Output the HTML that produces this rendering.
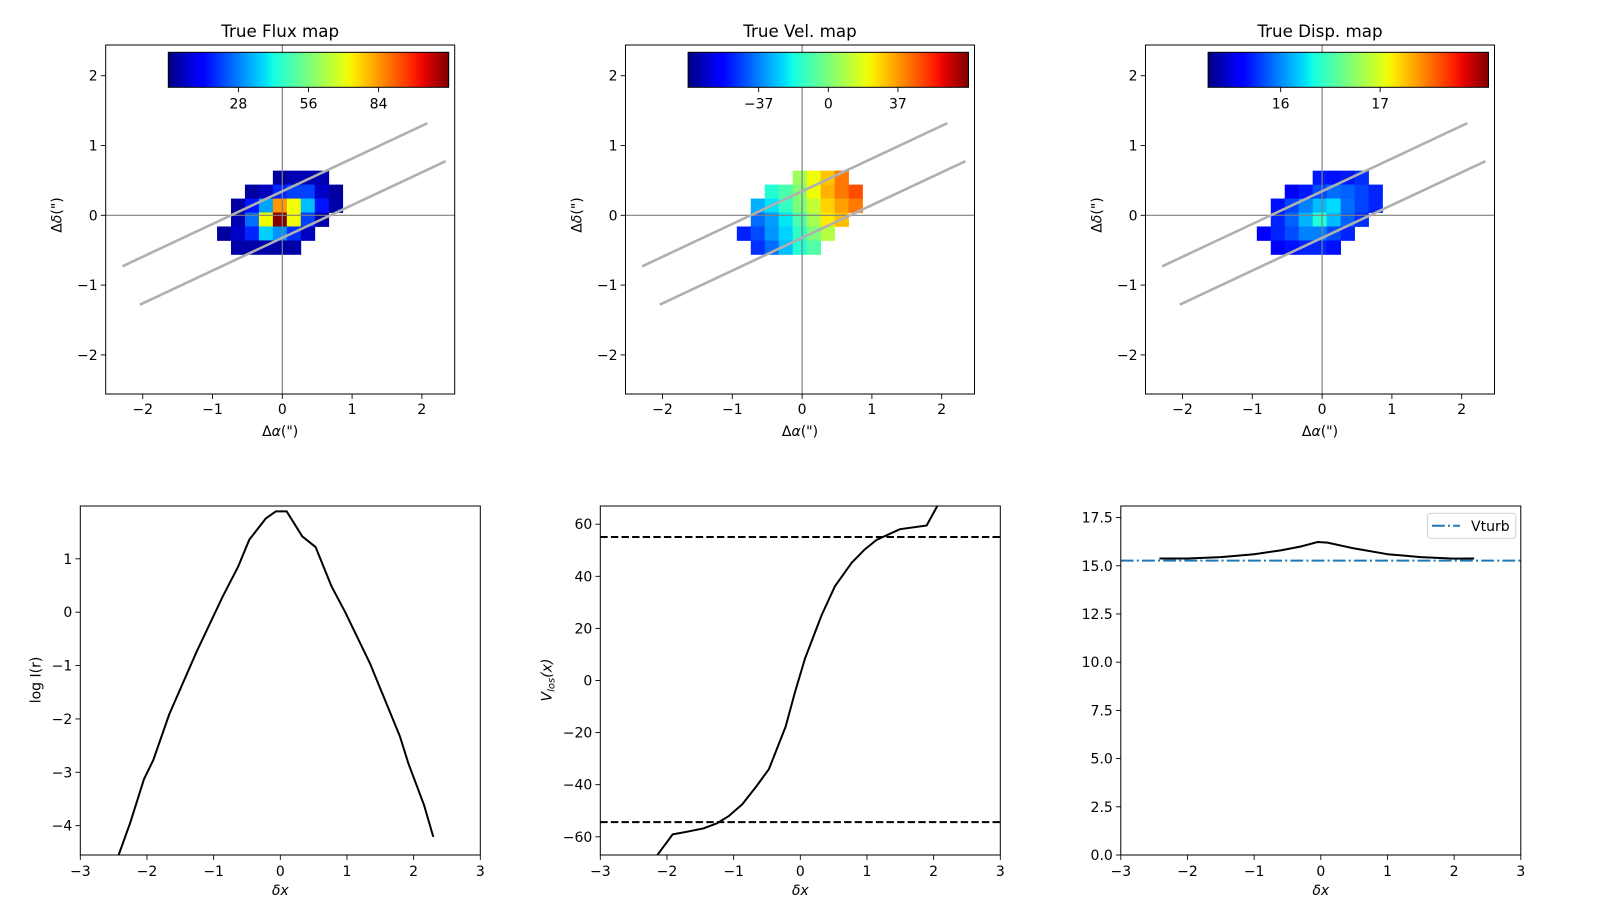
<!DOCTYPE html>
<html><head><meta charset="utf-8"><style>
html,body{margin:0;padding:0;background:#fff;}
svg{display:block;font-family:"DejaVu Sans","Liberation Sans",sans-serif;}
</style></head><body>
<svg id="fig" width="1600" height="900" viewBox="0 0 1600 900" xmlns="http://www.w3.org/2000/svg">
<defs id="defs"></defs>
</svg>
<script>
// ---------- data ----------
const fluxGrid = [
 [null,null,null,null,3,5,5,5,null,null],
 [null,null,3,6,18,21,21,7,3,null],
 [null,3,16,32,84,72,35,16,4,null],
 [null,5,26,72,112,72,21,4,null,null],
 [3,7,18,37,30,19,6,null,null,null],
 [null,4,4,4,4,4,null,null,null,null]
];
const velGrid = [
 [null,null,null,null,6,21,30,42,null,null],
 [null,null,-16,-9,1.5,21,33,42,49,null],
 [null,-30,-23,-13,0,13,28,36,42,null],
 [null,-40,-33,-22,-9,7.5,24,31,null,null],
 [-51,-45,-34,-25,-14,0,10,null,null,null],
 [null,-49,-40,-28,-16,-7.5,null,null,null,null]
];
const dispGrid = [
 [null,null,null,null,15.69,15.66,15.69,15.75,null,null],
 [null,null,15.57,15.69,15.83,15.93,15.89,15.81,15.72,null],
 [null,15.66,15.81,15.98,16.14,16.23,15.93,15.81,15.72,null],
 [null,15.72,15.89,16.12,16.37,16.14,15.89,15.75,null,null],
 [15.58,15.72,15.83,15.98,15.98,15.83,15.72,null,null,null],
 [null,15.57,15.66,15.72,15.72,15.66,null,null,null,null]
];
const mapTitles = ["True Flux map","True Vel. map","True Disp. map"];
const cbarRanges = [[0,112],[-74.5,74.5],[15.27,18.09]];
const cbarTicks = [[28,56,84],[-37,0,37],[16,17]];
const slitLine1 = [[-2.29,-0.73],[2.08,1.32]];
const slitLine2 = [[-2.04,-1.28],[2.34,0.775]];

const fluxX = [-2.5,-2.425,-2.255,-2.045,-1.905,-1.665,-1.255,-0.865,-0.63,-0.465,-0.215,-0.065,0.095,0.33,0.53,0.77,0.97,1.345,1.795,1.92,2.155,2.295];
const fluxY = [-5.0,-4.55,-3.96,-3.13,-2.77,-1.91,-0.74,0.29,0.86,1.36,1.76,1.89,1.89,1.42,1.22,0.48,0.01,-0.96,-2.33,-2.83,-3.61,-4.21];
const velX = [-2.3,-2.155,-1.915,-1.705,-1.455,-1.255,-1.07,-0.87,-0.655,-0.47,-0.22,-0.08,0.07,0.32,0.52,0.77,0.97,1.145,1.495,1.895,2.055,2.2];
const velY = [-75,-67.4,-59.1,-58.1,-56.8,-54.9,-52.0,-47.5,-40.5,-34.0,-17.7,-4.5,8.4,25.1,36.2,45.2,50.4,54.0,58.1,59.5,67,78];
const velLimits = [55.1,-54.4];
const dispX = [-2.42,-2.0,-1.5,-1.0,-0.6,-0.3,-0.05,0.1,0.5,1.0,1.5,2.0,2.3];
const dispY = [15.38,15.38,15.45,15.6,15.8,16.0,16.23,16.2,15.9,15.6,15.45,15.37,15.38];
const vturb = 15.27;

// ---------- helpers ----------
const NS = "http://www.w3.org/2000/svg";
const fig = document.getElementById("fig");
const defs = document.getElementById("defs");
function mk(tag, attrs, parent){
  const e = document.createElementNS(NS, tag);
  for (const k in attrs) e.setAttribute(k, attrs[k]);
  (parent||fig).appendChild(e);
  return e;
}
function lerpPts(pts,f){
  for(let i=1;i<pts.length;i++){
    if(f<=pts[i][0]){const a=pts[i-1],b=pts[i];return a[1]+(b[1]-a[1])*(f-a[0])/(b[0]-a[0]);}
  }
  return pts[pts.length-1][1];
}
function jet(f){
  f=Math.max(0,Math.min(1,f));
  const r=lerpPts([[0,0],[0.35,0],[0.66,1],[0.89,1],[1,0.5]],f);
  const g=lerpPts([[0,0],[0.125,0],[0.375,1],[0.64,1],[0.91,0],[1,0]],f);
  const b=lerpPts([[0,0.5],[0.11,1],[0.34,1],[0.65,0],[1,0]],f);
  return "rgb("+Math.round(r*255)+","+Math.round(g*255)+","+Math.round(b*255)+")";
}
function fmt(v){return (v<0?"\u2212":"")+Math.abs(v);}
const FS = 14;

// ---------- top maps ----------
const grids = [fluxGrid, velGrid, dispGrid];
const topLefts = [105.7, 625.5, 1145.5];
const TOP=45, BOT=394, PPU=69.8, XMIN=-2.53, YMAX=2.44;
for(let p=0;p<3;p++){
  const L = topLefts[p], W = 349;
  const sx = v => L + (v - XMIN)*PPU;
  const sy = v => TOP + (YMAX - v)*PPU;
  const g = mk("g",{});
  
  
  const cp = mk("clipPath",{id:"clipT"+p},defs);
  mk("rect",{x:L,y:TOP,width:W,height:BOT-TOP},cp);
  const [vmin,vmax] = cbarRanges[p];
  const grid = grids[p];
  for(let r=0;r<grid.length;r++){
    for(let c=0;c<grid[r].length;c++){
      const v = grid[r][c];
      if(v===null) continue;
      const x0 = -0.935+0.2*c, y0 = 0.64-0.2*r;
      const cell = mk("rect",{x:sx(x0),y:sy(y0),width:0.2*PPU+0.4,height:0.2*PPU+0.4,fill:jet((v-vmin)/(vmax-vmin))},g);
      
      
    }
  }
  const hl = mk("line",{x1:L,x2:L+W,y1:sy(0),y2:sy(0),stroke:"#808080","stroke-width":1.2},g);
  
  
  const vl = mk("line",{x1:sx(0),x2:sx(0),y1:TOP,y2:BOT,stroke:"#808080","stroke-width":1.2},g);
  
  
  [slitLine1,slitLine2].forEach((ln,i)=>{
    const s = mk("line",{x1:sx(ln[0][0]),y1:sy(ln[0][1]),x2:sx(ln[1][0]),y2:sy(ln[1][1]),stroke:"#b0b0b0","stroke-width":2.6,"clip-path":"url(#clipT"+p+")"},g);
    
    
  });
  // colorbar
  const gid = "jetg"+p;
  const lg = mk("linearGradient",{id:gid,x1:0,x2:1,y1:0,y2:0},defs);
  for(let k=0;k<=40;k++) mk("stop",{offset:k/40,"stop-color":jet(k/40)},lg);
  const cbL=L+62.6, cbR=L+343, cbT=52.3, cbB=87.3;
  const cb = mk("rect",{x:cbL,y:cbT,width:cbR-cbL,height:cbB-cbT,fill:"url(#"+gid+")",stroke:"#000","stroke-width":1},g);
  
  
  cbarTicks[p].forEach(t=>{
    const x = cbL + (t-vmin)/(vmax-vmin)*(cbR-cbL);
    mk("line",{x1:x,x2:x,y1:cbB,y2:cbB+4.9,stroke:"#000","stroke-width":0.9},g);
    const tl = mk("text",{x:x,y:cbB+21,"text-anchor":"middle","font-size":FS,fill:"#000"},g);
    tl.textContent = fmt(t);
    
    
  });
  // frame
  const fr = mk("rect",{x:L,y:TOP,width:W,height:BOT-TOP,fill:"none",stroke:"#000","stroke-width":1},g);
  
  
  [-2,-1,0,1,2].forEach(t=>{
    mk("line",{x1:sx(t),x2:sx(t),y1:BOT,y2:BOT+4.9,stroke:"#000","stroke-width":0.9},g);
    const xt = mk("text",{x:sx(t),y:BOT+20,"text-anchor":"middle","font-size":FS},g);
    xt.textContent = fmt(t);
    
    
    mk("line",{x1:L-4.9,x2:L,y1:sy(t),y2:sy(t),stroke:"#000","stroke-width":0.9},g);
    const yt = mk("text",{x:L-8,y:sy(t)+5,"text-anchor":"end","font-size":FS},g);
    yt.textContent = fmt(t);
    
    
  });
  const tt = mk("text",{x:L+W/2,y:37,"text-anchor":"middle","font-size":16.7},g);
  tt.textContent = mapTitles[p];
  
  
  const xl = mk("text",{x:L+W/2,y:436,"text-anchor":"middle","font-size":FS},g);
  
  
  const xa = mk("tspan",{},xl); xa.textContent="\u0394";
  const xb = mk("tspan",{"font-style":"italic"},xl); xb.textContent="\u03b1";
  const xc = mk("tspan",{},xl); xc.textContent="(\")";
  const yl = mk("text",{x:0,y:0,"text-anchor":"middle","font-size":FS,transform:"translate("+(L-44)+",215) rotate(-90)"},g);
  
  
  const ya = mk("tspan",{},yl); ya.textContent="\u0394";
  const yb = mk("tspan",{"font-style":"italic"},yl); yb.textContent="\u03b4";
  const yc = mk("tspan",{},yl); yc.textContent="(\")";
}

// ---------- bottom profiles ----------
const BT=506, BB=855, BW=400;
const botLefts=[80.3,600.3,1120.8];
const botY=[[-4.55,1.99],[-67,67],[0,18.1]];
const botYTicks=[[-4,-3,-2,-1,0,1],[-60,-40,-20,0,20,40,60],[0,2.5,5,7.5,10,12.5,15,17.5]];
for(let p=0;p<3;p++){
  const L=botLefts[p];
  const sx = v => L + (v+3)/6*BW;
  const [y0,y1] = botY[p];
  const sy = v => BB - (v-y0)/(y1-y0)*(BB-BT);
  const g = mk("g",{});
  
  
  const cp = mk("clipPath",{id:"clipB"+p},defs);
  mk("rect",{x:L,y:BT,width:BW,height:BB-BT},cp);
  let xs, ys;
  if(p===0){xs=fluxX;ys=fluxY;} else if(p===1){xs=velX;ys=velY;} else {xs=dispX;ys=dispY;}
  if(p===1){
    velLimits.forEach(v=>{
      const d = mk("line",{x1:L,x2:L+BW,y1:sy(v),y2:sy(v),stroke:"#000","stroke-width":2,"stroke-dasharray":"7.4,3.2"},g);
      
      
    });
  }
  if(p===2){
    const vt = mk("line",{x1:L,x2:L+BW,y1:sy(vturb),y2:sy(vturb),stroke:"#1f77b4","stroke-width":2,"stroke-dasharray":"12.8,3.2,2,3.2"},g);
    
    
  }
  const pts = xs.map((x,i)=>sx(x).toFixed(2)+","+sy(ys[i]).toFixed(2)).join(" ");
  const pl = mk("polyline",{points:pts,fill:"none",stroke:"#000","stroke-width":2,"stroke-linejoin":"round","clip-path":"url(#clipB"+p+")"},g);
  
  
  const fr = mk("rect",{x:L,y:BT,width:BW,height:BB-BT,fill:"none",stroke:"#000","stroke-width":1},g);
  
  
  [-3,-2,-1,0,1,2,3].forEach(t=>{
    mk("line",{x1:sx(t),x2:sx(t),y1:BB,y2:BB+4.9,stroke:"#000","stroke-width":0.9},g);
    const xt = mk("text",{x:sx(t),y:BB+21,"text-anchor":"middle","font-size":FS},g);
    xt.textContent = fmt(t);
    
    
  });
  botYTicks[p].forEach(t=>{
    mk("line",{x1:L-4.9,x2:L,y1:sy(t),y2:sy(t),stroke:"#000","stroke-width":0.9},g);
    const yt = mk("text",{x:L-8,y:sy(t)+5,"text-anchor":"end","font-size":FS},g);
    yt.textContent = p===2 ? (t<0?"\u2212":"")+t.toFixed(1) : fmt(t);
    
    
  });
  const xl = mk("text",{x:L+BW/2,y:895,"text-anchor":"middle","font-size":FS,"font-style":"italic"},g);
  xl.textContent = "\u03b4x";
  
  
  if(p===0){
    const yl = mk("text",{x:0,y:0,"text-anchor":"middle","font-size":FS,transform:"translate("+(L-40)+",680) rotate(-90)"},g);
    yl.textContent = "log I(r)";
    
    
  }
  if(p===1){
    const yl = mk("text",{x:0,y:0,"text-anchor":"middle","font-size":FS,"font-style":"italic",transform:"translate("+(L-49)+",680) rotate(-90)"},g);
    
    
    const t1 = mk("tspan",{},yl); t1.textContent="V";
    const t2 = mk("tspan",{"font-size":10,dy:3},yl); t2.textContent="los";
    const t3 = mk("tspan",{dy:-3},yl); t3.textContent="(x)";
  }
  if(p===2){
    const lgG = mk("g",{},g);
    
    
    mk("rect",{x:1427.6,y:513.3,width:88.2,height:25,rx:3,fill:"#fff",stroke:"#d0d0d0","stroke-width":1},lgG);
    const ll = mk("line",{x1:1432,x2:1460,y1:525.8,y2:525.8,stroke:"#1f77b4","stroke-width":2,"stroke-dasharray":"12.8,3.2,2,3.2"},lgG);
    
    
    const lt = mk("text",{x:1471,y:531,"font-size":FS},lgG);
    lt.textContent = "Vturb";
    
    
  }
}
</script>
</body></html>
